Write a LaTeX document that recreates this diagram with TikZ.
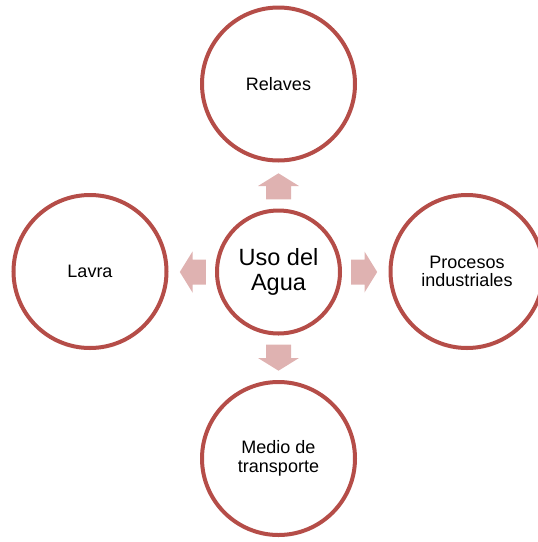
\documentclass[tikz,border=0pt]{standalone}
\usepackage{fontspec}
\setmainfont{Liberation Sans}
\definecolor{ringcol}{RGB}{181,77,72}
\definecolor{arrowfill}{RGB}{223,178,177}
\begin{document}
\begin{tikzpicture}[x=1pt,y=-1pt,
  ring/.style={circle,draw=ringcol,line width=4pt,fill=white,inner sep=0pt,
    minimum size=153pt,align=center,font=\fontsize{18}{18.6}\selectfont},
  hub/.style={ring,minimum size=123pt,font=\fontsize{23.5}{24.7}\selectfont},
  blockarrow/.pic={\fill[arrowfill] (72.7,-12.5) -- (86,-12.5) -- (86,-20.5) -- (98.7,0) -- (86,20.5) -- (86,12.5) -- (72.7,12.5) -- cycle;}]
\useasboundingbox (0,0) rectangle (538,542);
\clip (0,0) rectangle (538,542);
\node[hub] (c) at (278.5,272) {Uso del\\Agua};
\node[ring] (t) at (278.5,84) {Relaves};
\node[ring] (b) at (278.5,458.5) {Medio de\\transporte};
\node[ring] (l) at (90,271.5) {Lavra};
\node[ring] (r) at (467,271.5) {Procesos\\industriales};
\pic[rotate=90] at (c) {blockarrow};
\pic[rotate=-90] at (c) {blockarrow};
\pic[rotate=180] at (c) {blockarrow};
\pic at (c) {blockarrow};
\end{tikzpicture}
\end{document}
